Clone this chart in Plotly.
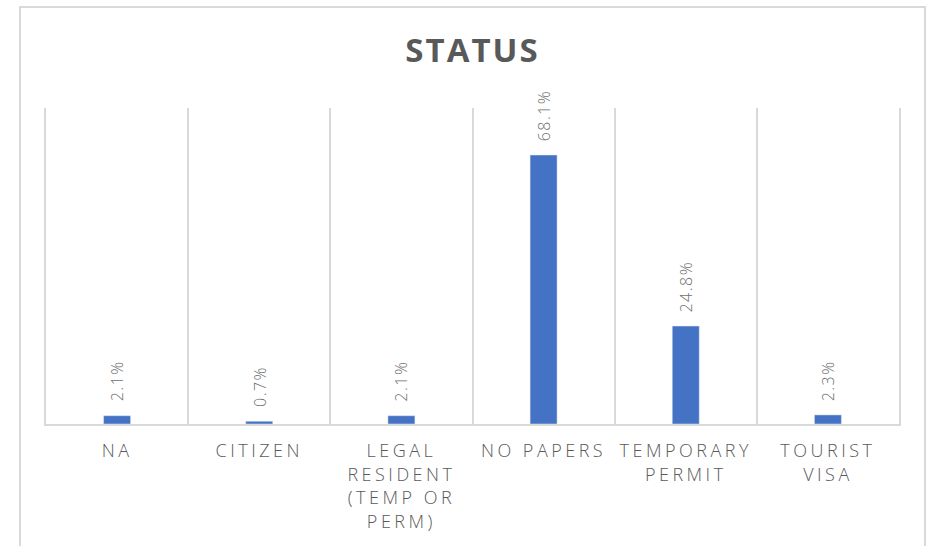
import plotly.graph_objects as go

categories = ["NA", "CITIZEN", "LEGAL<br>RESIDENT<br>(TEMP OR<br>PERM)", "NO PAPERS",
              "TEMPORARY<br>PERMIT", "TOURIST<br>VISA"]
shares = [2.1, 0.7, 2.1, 68.1, 24.8, 2.3]
share_labels = ["2.1%", "0.7%", "2.1%", "68.1%", "24.8%", "2.3%"]

fig = go.Figure()

fig.add_trace(go.Bar(
    x=categories,
    y=shares,
    width=0.19,
    marker=dict(color="#4472C4"),
    hoverinfo="skip",
))

# rotated value labels sitting a bit above each bar
for cat, val, lab in zip(categories, shares, share_labels):
    fig.add_annotation(
        x=cat, y=val, text=lab,
        textangle=-90, showarrow=False,
        xanchor="center", yanchor="bottom", yshift=15,
        font=dict(family="Open Sans", size=16, color="#6f6f6f", weight=300),
    )

# outer chart frame
fig.add_shape(
    type="rect", xref="paper", yref="paper",
    x0=-0.0305, x1=1.0305, y0=-0.45, y1=1.3196,
    line=dict(color="#d9d9d9", width=2), fillcolor="rgba(0,0,0,0)",
    layer="below",
)

fig.update_layout(
    width=933, height=546,
    margin=dict(l=46, r=34, t=108, b=122),
    paper_bgcolor="white",
    plot_bgcolor="white",
    showlegend=False,
    title=dict(
        text="<b>STATUS</b>",
        x=0.5, xref="paper", xanchor="center",
        y=0.907, yref="container", yanchor="middle",
        font=dict(family="Open Sans", size=33, color="#595959"),
    ),
    xaxis=dict(
        tickson="boundaries",
        showgrid=True, gridcolor="#d9d9d9", gridwidth=1.5,
        showline=True, linecolor="#d9d9d9", linewidth=1.5,
        ticks="", ticklen=0,
        tickangle=0,
        ticklabelstandoff=10,
        tickfont=dict(family="Open Sans", size=18, color="#595959", weight=300),
        fixedrange=True,
    ),
    yaxis=dict(
        range=[0, 80],
        showgrid=False, zeroline=False,
        showticklabels=False,
        showline=True, mirror=True, linecolor="#d9d9d9", linewidth=1.5,
        fixedrange=True,
    ),
)

# page margin off, letter spacing like the original
post = """
var s = document.createElement('style');
s.innerHTML = 'body{margin:0;} .xtick text{letter-spacing:3.5px;} '
  + '.annotation-text{letter-spacing:1.5px;} .gtitle{letter-spacing:2px;}';
document.head.appendChild(s);
"""

fig.write_html("out.html", post_script=post, config={"displayModeBar": False})
